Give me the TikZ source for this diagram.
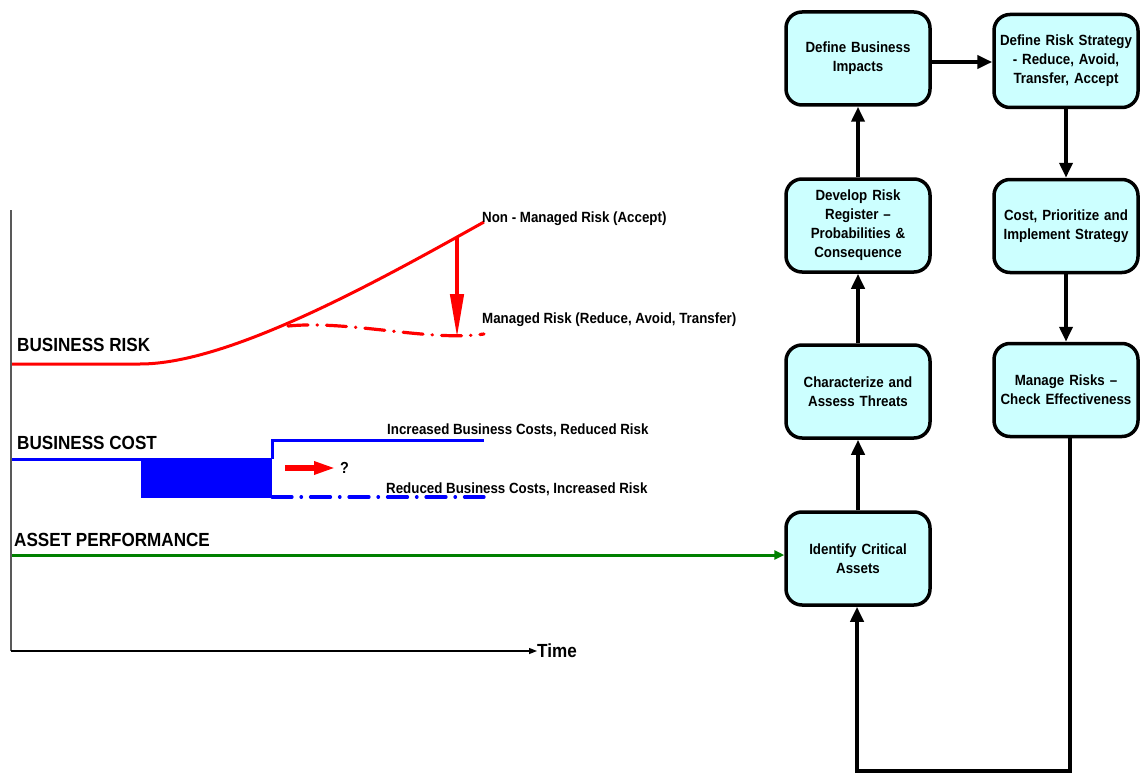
\documentclass[tikz,border=0pt]{standalone}
\usepackage{fontspec}
\setmainfont[FakeStretch=0.9]{Liberation Sans}
\usetikzlibrary{arrows.meta}
\definecolor{boxcyan}{HTML}{CCFFFF}
\definecolor{riskred}{HTML}{FF0000}
\definecolor{costblue}{HTML}{0000FF}
\definecolor{perfgreen}{HTML}{008000}
\begin{document}
\begin{tikzpicture}[x=1pt,y=-1pt,
  stepbox/.style={draw=black, line width=3.5pt, fill=boxcyan, rounded corners=16pt,
    minimum width=144pt, minimum height=93pt, inner sep=0pt, text width=140pt,
    align=center, font=\fontsize{14.8}{19}\selectfont\bfseries},
  flow/.style={line width=4pt, -{Triangle[length=15pt,width=13pt]}},
  biglabel/.style={anchor=west, inner sep=0pt, font=\fontsize{19}{22}\selectfont\bfseries},
  smalllabel/.style={anchor=west, inner sep=0pt, font=\fontsize{14.8}{17}\selectfont\bfseries},
  dashdot/.style={dash pattern=on 20pt off 9pt on 0.5pt off 9pt, line cap=round},
]
\useasboundingbox (0,0) rectangle (1140,773);

% process boxes
\node[stepbox] (dbi) at (858,58.5) {Define Business\\Impacts};
\node[stepbox] (drr) at (858,225.5) {Develop Risk\\Register --\\Probabilities \&\\Consequence};
\node[stepbox] (cat) at (858,391.5) {Characterize and\\Assess Threats};
\node[stepbox] (ica) at (858,558.5) {Identify Critical\\Assets};
\node[stepbox] (drs) at (1066,61) {Define Risk Strategy\\- Reduce, Avoid,\\Transfer, Accept};
\node[stepbox] (cpi) at (1066,226) {Cost, Prioritize and\\Implement Strategy};
\node[stepbox] (mr) at (1066,390) {Manage Risks --\\Check Effectiveness};

% process flow
\draw[flow] (ica.north) -- (cat.south);
\draw[flow] (cat.north) -- (drr.south);
\draw[flow] (drr.north) -- (dbi.south);
\draw[flow] (dbi.east |- 0,62) -- (drs.west |- 0,62);
\draw[flow] (drs.south) -- (cpi.north);
\draw[flow] (cpi.south) -- (mr.north);
\coordinate (loopcorner) at (857,770.5);
\draw[flow, line join=miter] ([xshift=4pt]mr.south) |- (loopcorner) -- (loopcorner |- ica.south);

% axes
\coordinate (origin) at (11,651);
\coordinate (ytop) at (11,210);
\node[anchor=west, inner sep=0pt, font=\fontsize{19}{22}\selectfont\bfseries] (time) at (537,651) {Time};
\draw[gray!70!black, line width=1.3pt] (ytop) -- (origin);
\draw[black, line width=1.3pt, -{Triangle[length=8pt,width=6pt]}] (origin) -- (time.west);

% business risk
\node[biglabel] (brlabel) at (17,345) {BUSINESS RISK};
\draw[riskred, line width=3pt] (12,364) -- (140,364)
  .. controls (230,364) and (380,280) .. (484,222);
\draw[riskred, line width=3.2pt, dashdot] (288,326) .. controls (350,320) and (430,342) .. (484,334);
\draw[riskred, line width=4.5pt, -{Triangle[length=44pt,width=13pt]}] (457,238) -- (457,338);
\node[smalllabel] (nmr) at (482,219) {Non - Managed Risk (Accept)};
\node[smalllabel] (mgr) at (482,320) {Managed Risk (Reduce, Avoid, Transfer)};

% business cost
\node[biglabel] (bclabel) at (17,443) {BUSINESS COST};
\fill[costblue] (141,457.5) rectangle (272,498);
\draw[costblue, line width=3pt] (12,459) -- (141,459);
\draw[costblue, line width=3pt] (272,459) -- (272,440) -- (484,440);
\draw[costblue, line width=3.2pt, dashdot] (272,497) -- (484,497);
\draw[riskred, line width=5.5pt, -{Triangle[length=22pt,width=12pt]}] (285,468) -- (336,468);
\node[anchor=west, inner sep=0pt, font=\fontsize{16}{18}\selectfont\bfseries] (qm) at (340,468) {?};
\node[smalllabel] (incr) at (387,430) {Increased Business Costs, Reduced Risk};
\node[smalllabel] (redu) at (386,489) {Reduced Business Costs, Increased Risk};

% asset performance
\node[biglabel] (aplabel) at (14,540) {ASSET PERFORMANCE};
\draw[perfgreen, line width=3pt, -{Triangle[length=10pt,width=9pt]}] (12,555) -- (ica.west |- 0,555);
\end{tikzpicture}
\end{document}
